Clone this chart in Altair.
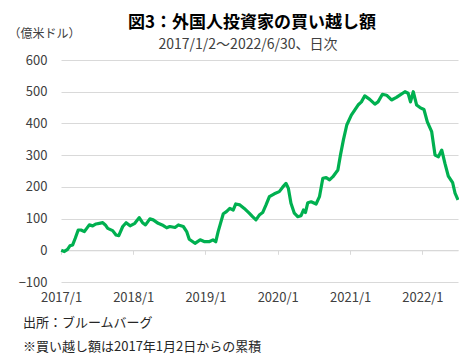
import altair as alt
import pandas as pd

dates = [
    "2017-01-02", "2017-01-18", "2017-02-03", "2017-02-15", "2017-03-01", "2017-03-14",
    "2017-03-29", "2017-04-12", "2017-04-29", "2017-05-11", "2017-05-24", "2017-06-10",
    "2017-06-27", "2017-07-14", "2017-07-31", "2017-08-13", "2017-08-25", "2017-09-19",
    "2017-10-06", "2017-10-20", "2017-11-09", "2017-11-26", "2017-12-16", "2018-01-09",
    "2018-01-31", "2018-02-17", "2018-03-04", "2018-03-26", "2018-04-12", "2018-05-07",
    "2018-06-02", "2018-06-19", "2018-07-05", "2018-07-31", "2018-08-17", "2018-09-11",
    "2018-09-28", "2018-10-11", "2018-11-09", "2018-12-05", "2018-12-28", "2019-01-19",
    "2019-02-08", "2019-02-22", "2019-03-06", "2019-03-18", "2019-04-01", "2019-04-17",
    "2019-05-04", "2019-05-21", "2019-06-03", "2019-06-24", "2019-07-16", "2019-08-10",
    "2019-08-27", "2019-09-13", "2019-09-30", "2019-10-17", "2019-11-03", "2019-11-20",
    "2019-12-15", "2020-01-09", "2020-01-26", "2020-02-12", "2020-02-24", "2020-03-08",
    "2020-03-25", "2020-04-11", "2020-04-28", "2020-05-10", "2020-05-20", "2020-06-01",
    "2020-06-18", "2020-07-13", "2020-07-30", "2020-08-16", "2020-09-02", "2020-09-19",
    "2020-10-06", "2020-10-31", "2020-11-13", "2020-11-28", "2020-12-15", "2021-01-07",
    "2021-01-24", "2021-02-10", "2021-02-27", "2021-03-16", "2021-04-10", "2021-05-06",
    "2021-05-22", "2021-06-13", "2021-07-04", "2021-07-29", "2021-08-23", "2021-09-09",
    "2021-10-05", "2021-10-21", "2021-11-02", "2021-11-16", "2021-12-03", "2021-12-20",
    "2022-01-09", "2022-01-26", "2022-02-17", "2022-03-06", "2022-03-23", "2022-04-09",
    "2022-04-25", "2022-05-12", "2022-06-03", "2022-06-15", "2022-06-30",
]
values = [
    0, -4, 3, 14, 17, 38,
    64, 64, 59, 69, 80, 77,
    83, 85, 87, 80, 69, 62,
    48, 46, 75, 87, 77, 85,
    103, 87, 80, 99, 96, 85,
    78, 71, 75, 72, 80, 75,
    59, 35, 22, 33, 27, 27,
    33, 27, 59, 85, 115, 122,
    132, 127, 146, 143, 132, 117,
    106, 96, 111, 119, 143, 169,
    178, 185, 199, 211, 195, 148,
    117, 106, 109, 127, 119, 150,
    153, 146, 169, 227, 229, 222,
    232, 253, 300, 348, 395, 426,
    442, 458, 468, 487, 476, 461,
    468, 492, 489, 474, 482, 489,
    500, 495, 468, 500, 458, 450,
    444, 405, 374, 300, 295, 316,
    274, 234, 213, 180, 159,
]
y_ticks = [-100, 0, 100, 200, 300, 400, 500, 600]
title_text = ["図3：外国人投資家の買い越し額"]
subtitle_text = ["2017/1/2～2022/6/30、日次"]
y_title = "（億米ドル）"
note1 = ["出所：ブルームバーグ"]
note2 = ["※買い越し額は2017年1月2日からの累積"]

df = pd.DataFrame({"date": dates, "value": values})

FONT = "Noto Sans CJK JP"
W, H = 397, 222
GRID = "#d9d9d9"

year_ticks = [alt.DateTime(year=y, month=1, date=1) for y in range(2017, 2023)]
x_scale = alt.Scale(domain=[alt.DateTime(year=2017, month=1, date=1),
                            alt.DateTime(year=2022, month=6, date=30)])
y_scale = alt.Scale(domain=[-100, 600], nice=False, zero=False)
zero_offset = -H * 100 / 700

line = alt.Chart(df).mark_line(color="#00B050", strokeWidth=3.2, strokeJoin="round").encode(
    x=alt.X("date:T", scale=x_scale, axis=alt.Axis(
        values=year_ticks,
        labelExpr="timeFormat(datum.value, '%Y') + '/' + (month(datum.value) + 1)",
        title=None, grid=False, domain=True, domainColor=GRID, domainWidth=1,
        ticks=True, tickColor=GRID, tickSize=4, offset=zero_offset,
        labelFlush=False, labelOverlap=False, labelBound=False,
        labelPadding=37, labelFont=FONT, labelFontSize=13, labelColor="#404040",
        labelBaseline="top")),
    y=alt.Y("value:Q", scale=y_scale, axis=alt.Axis(
        values=y_ticks, title=y_title, titleAngle=0, titleX=-53, titleY=-23,
        titleAlign="left", titleBaseline="alphabetic", titleFont=FONT,
        titleFontSize=12, titleFontWeight="normal", titleColor="#404040",
        domain=False, ticks=False, labelPadding=14, labelFont=FONT,
        labelFontSize=13, labelColor="#404040", grid=True, gridColor=GRID)),
)


def txt(lines, x, y, size, weight="normal", align="left", color="#262626"):
    return alt.Chart(pd.DataFrame({"t": lines})).mark_text(
        font=FONT, fontSize=size, fontWeight=weight, align=align,
        baseline="alphabetic", color=color).encode(
        text="t:N", x=alt.value(x), y=alt.value(y))


title = txt(title_text, 191, -32, 17, "bold", "center", "#000000")
subtitle = txt(subtitle_text, 187, -11.5, 14, "normal", "center", "#404040")
foot1 = txt(note1, -38, 267, 13)
foot2 = txt(note2, -38, 291, 13)

chart = alt.layer(line, title, subtitle, foot1, foot2).properties(
    width=W, height=H,
    padding={"left": 53, "top": 52, "right": 1, "bottom": 74},
    autosize=alt.AutoSizeParams(type="none"),
).configure_view(stroke=None)

chart.save("out.html", embed_options={"renderer": "svg", "actions": False})
